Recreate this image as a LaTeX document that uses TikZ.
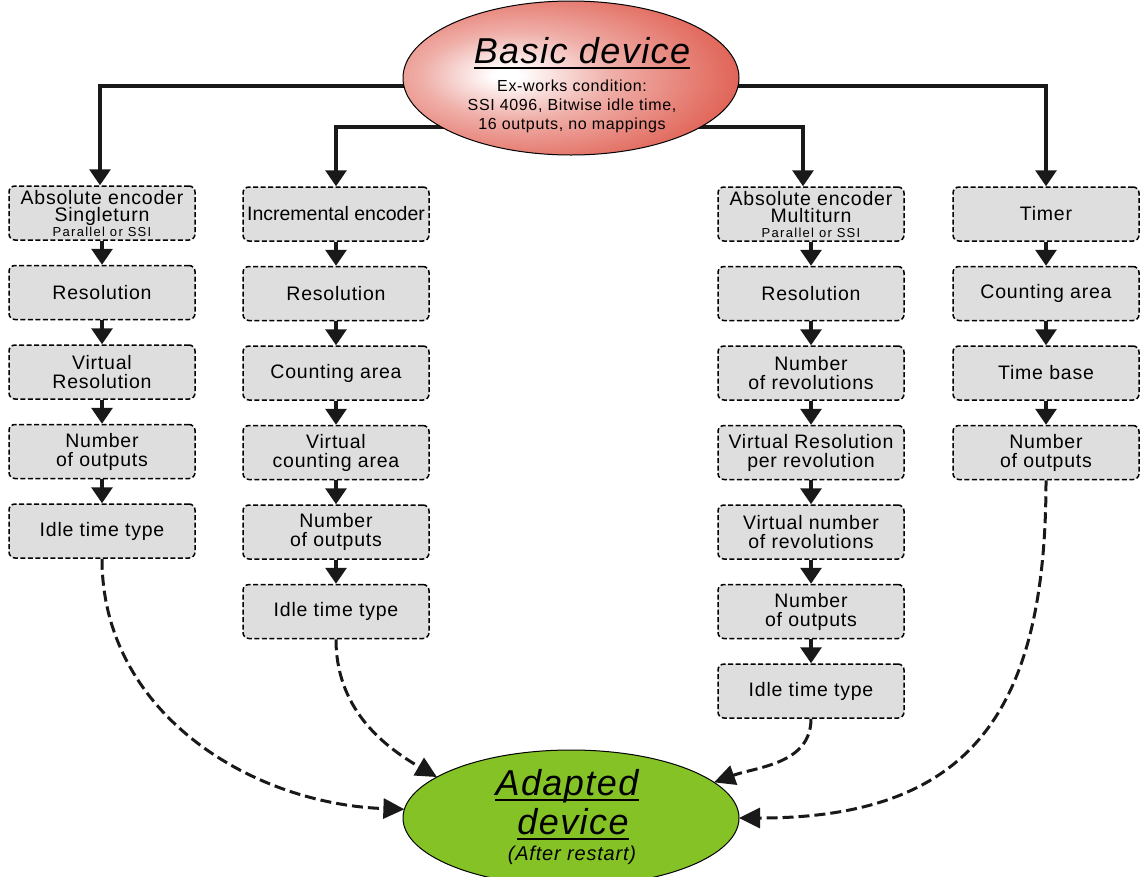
\documentclass[tikz,border=0pt]{standalone}
\usepackage{fontspec}
\setmainfont{Liberation Sans}
\newfontfamily\boxfont[LetterSpace=4]{Liberation Sans}
\newfontfamily\infofont[LetterSpace=4]{Liberation Sans}
\newfontfamily\titlefont[LetterSpace=4]{Liberation Sans}
\newfontfamily\notefont[LetterSpace=10]{Liberation Sans}
\newcommand{\encnote}[1]{{\notefont\fontsize{13}{13}\selectfont #1}}
\usepackage{tikz}
\usetikzlibrary{positioning,arrows.meta,shapes.geometric,backgrounds}

\definecolor{basicred}{RGB}{216,56,40}
\definecolor{adaptgreen}{RGB}{132,194,38}
\definecolor{boxgray}{RGB}{222,222,222}

\pgfdeclareradialshading{basicglow}{\pgfpoint{-10bp}{1bp}}{color(0bp)=(white); color(2bp)=(white); color(14bp)=(basicred!40!white); color(34bp)=(basicred!85!white); color(48bp)=(basicred); color(75bp)=(basicred)}

\tikzset{
  parambox/.style={draw=black, line width=1.5pt, dash pattern=on 5pt off 2.5pt,
    rounded corners=6pt, fill=boxgray, minimum width=186pt, minimum height=54pt,
    inner sep=2pt, align=center, font=\boxfont\fontsize{19.5}{19}\selectfont},
  flow/.style={line width=3.2pt, draw=black!90, -{Triangle[width=21pt,length=16pt]}},
  restart/.style={line width=3pt, draw=black!90, dash pattern=on 11pt off 5pt,
    -{Triangle[width=20pt,length=21pt]}},
  device/.style={ellipse, draw, line width=1pt, inner sep=0pt, outer sep=0pt,
    minimum width=336pt},
  devicetitle/.style={anchor=base, inner sep=0pt, font=\titlefont\itshape\fontsize{36}{38}\selectfont},
  underbar/.style={line width=1.8pt}
}

\begin{document}
\begin{tikzpicture}[x=1pt, y=1pt, node distance=24pt]
\useasboundingbox (0,0) rectangle (1140,-876);

% basic device
\node[device, shading=basicglow, minimum height=154pt] (basic) at (571,-78) {};
\node[devicetitle] (basictitle) at (582,-63) {Basic device};
\draw[underbar] ([yshift=-5pt]basictitle.base west) -- ([yshift=-5pt]basictitle.base east);
\node[align=center, font=\infofont\fontsize{16}{19}\selectfont] (basicinfo) at (572,-106)
  {Ex-works condition:\\SSI 4096, Bitwise idle time,\\16 outputs, no mappings};

% adapted device
\node[device, fill=adaptgreen, minimum height=136pt] (adapted) at (571,-818) {};
\node[devicetitle] (adaptedtitle) at (567,-795) {Adapted};
\node[devicetitle] (adapteddevice) at (573,-834) {device};
\draw[underbar] ([yshift=-5pt]adaptedtitle.base west) -- ([yshift=-5pt]adaptedtitle.base east);
\draw[underbar] ([yshift=-5pt]adapteddevice.base west) -- ([yshift=-5pt]adapteddevice.base east);
\node[font=\infofont\itshape\fontsize{20}{24}\selectfont] (adaptednote) at (572,-855) {(After restart)};

% singleturn
\node[parambox] (st1) at (102,-213) {Absolute encoder\\[-2pt]Singleturn\\[-4pt]\encnote{Parallel or SSI}};
\node[parambox, below=of st1] (st2) {Resolution};
\node[parambox, below=of st2] (st3) {Virtual\\Resolution};
\node[parambox, below=of st3] (st4) {Number\\of outputs};
\node[parambox, below=of st4] (st5) {Idle time type};

% incremental
\node[parambox] (ic1) at (336,-214) {{\addfontfeature{LetterSpace=0}Incremental encoder}};
\node[parambox, below=of ic1] (ic2) {Resolution};
\node[parambox, below=of ic2] (ic3) {Counting area};
\node[parambox, below=of ic3] (ic4) {Virtual\\counting area};
\node[parambox, below=of ic4] (ic5) {Number\\of outputs};
\node[parambox, below=of ic5] (ic6) {Idle time type};

% multiturn
\node[parambox] (mt1) at (811,-214) {Absolute encoder\\[-2pt]Multiturn\\[-4pt]\encnote{Parallel or SSI}};
\node[parambox, below=of mt1] (mt2) {Resolution};
\node[parambox, below=of mt2] (mt3) {Number\\of revolutions};
\node[parambox, below=of mt3] (mt4) {Virtual Resolution\\per revolution};
\node[parambox, below=of mt4] (mt5) {Virtual number\\of revolutions};
\node[parambox, below=of mt5] (mt6) {Number\\of outputs};
\node[parambox, below=of mt6] (mt7) {Idle time type};

% timer
\node[parambox] (tm1) at (1046,-214) {Timer};
\node[parambox, below=of tm1] (tm2) {Counting area};
\node[parambox, below=of tm2] (tm3) {Time base};
\node[parambox, below=of tm3] (tm4) {Number\\of outputs};

% steps
\foreach \i/\j in {1/2,2/3,3/4,4/5}
   \draw[flow] (st\i) -- (st\j);
\foreach \i/\j in {1/2,2/3,3/4,4/5,5/6}
   \draw[flow] (ic\i) -- (ic\j);
\foreach \i/\j in {1/2,2/3,3/4,4/5,5/6,6/7}
   \draw[flow] (mt\i) -- (mt\j);
\foreach \i/\j in {1/2,2/3,3/4}
   \draw[flow] (tm\i) -- (tm\j);

% from basic device
\begin{scope}[on background layer]
\draw[flow] ([yshift=-8pt]basic.center) -| ([xshift=-2pt]st1.north);
\draw[flow] ([yshift=-8pt]basic.center) -| (tm1.north);
\draw[flow] ([yshift=-49pt]basic.center) -| (ic1.north);
\draw[flow] ([yshift=-49pt]basic.center) -| ([xshift=-8pt]mt1.north);
\end{scope}

% back to adapted device
\draw[restart] (st5.south) to[out=-90, in=178] (adapted.177);
\draw[restart] (ic6.south) to[out=-90, in=150] (adapted.163);
\draw[restart] (mt7.south) to[out=-90, in=20] (adapted.14);
\draw[restart] (tm4.south) to[out=-90, in=0, looseness=1.3] (adapted.east);
\end{tikzpicture}
\end{document}
